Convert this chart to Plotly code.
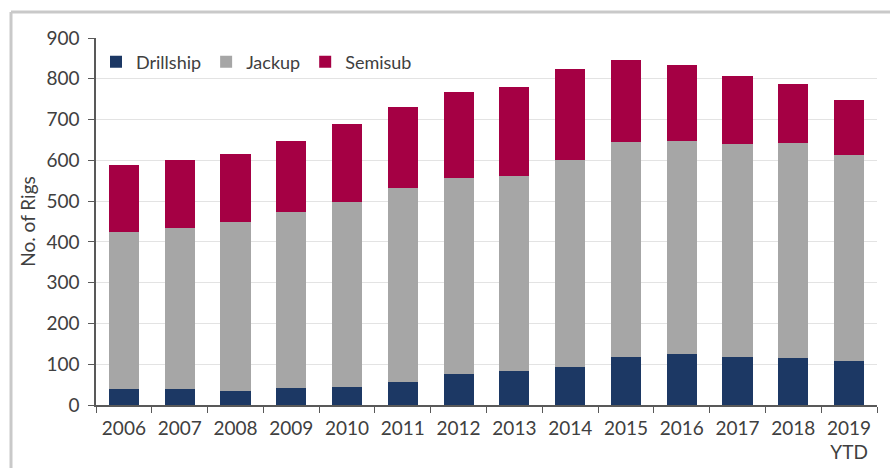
import plotly.graph_objects as go

years = ["2006", "2007", "2008", "2009", "2010", "2011", "2012", "2013",
         "2014", "2015", "2016", "2017", "2018", "2019<br>YTD"]
drillship = [39, 39, 34, 41, 45, 57, 75, 84, 94, 118, 124, 118, 115, 107]
jackup = [386, 395, 414, 433, 454, 476, 481, 477, 508, 527, 524, 521, 527, 505]
semisub = [163, 168, 167, 174, 189, 198, 211, 219, 221, 202, 185, 168, 145, 135]
y_ticks = [0, 100, 200, 300, 400, 500, 600, 700, 800, 900]

FONT = "Lato"
TXT = "#404040"

fig = go.Figure()
fig.add_trace(go.Bar(name="Drillship", x=years, y=drillship, marker_color="#1c3864",
                     marker_line_width=0))
fig.add_trace(go.Bar(name="Jackup", x=years, y=jackup, marker_color="#a6a6a6",
                     marker_line_width=0))
fig.add_trace(go.Bar(name="Semisub", x=years, y=semisub, marker_color="#a50044",
                     marker_line_width=0))

fig.update_layout(
    width=890, height=468,
    barmode="stack", bargap=0.46,
    margin=dict(l=96, r=13, t=38, b=63),
    paper_bgcolor="white", plot_bgcolor="white",
    font=dict(family=FONT, size=18, color=TXT),
    showlegend=True,
    legend=dict(orientation="h", x=0.0, y=0.985, xanchor="left", yanchor="top",
                font=dict(family=FONT, size=18, color=TXT),
                bgcolor="rgba(0,0,0,0)", traceorder="normal"),
    xaxis=dict(showline=True, linecolor="#595959", linewidth=1.5,
               ticks="outside", tickson="boundaries", ticklen=6,
               tickcolor="#595959", showgrid=False, automargin=False,
               ticklabelstandoff=5,
               tickfont=dict(family=FONT, size=19, color=TXT)),
    yaxis=dict(range=[0, 900], tickvals=y_ticks, showline=True,
               linecolor="#595959", linewidth=1.5, ticks="outside", ticklen=6,
               tickcolor="#595959", showgrid=True, gridcolor="#e3e3e3",
               gridwidth=1, zeroline=False, automargin=False,
               ticklabelstandoff=5,
               tickfont=dict(family=FONT, size=19, color=TXT),
               title=dict(text="No. of Rigs", standoff=6,
                          font=dict(family=FONT, size=19, color=TXT))),
    shapes=[
        dict(type="line", xref="paper", yref="paper",
             x0=-(96 - 11) / 781, x1=1.1, y0=(405 - 12) / 367, y1=(405 - 12) / 367,
             line=dict(color="#c9c9c9", width=3), layer="below"),
        dict(type="line", xref="paper", yref="paper",
             x0=-(96 - 11) / 781, x1=-(96 - 11) / 781, y0=-0.3, y1=(405 - 12) / 367,
             line=dict(color="#c9c9c9", width=3), layer="below"),
    ],
)

fig.write_html("out.html")
